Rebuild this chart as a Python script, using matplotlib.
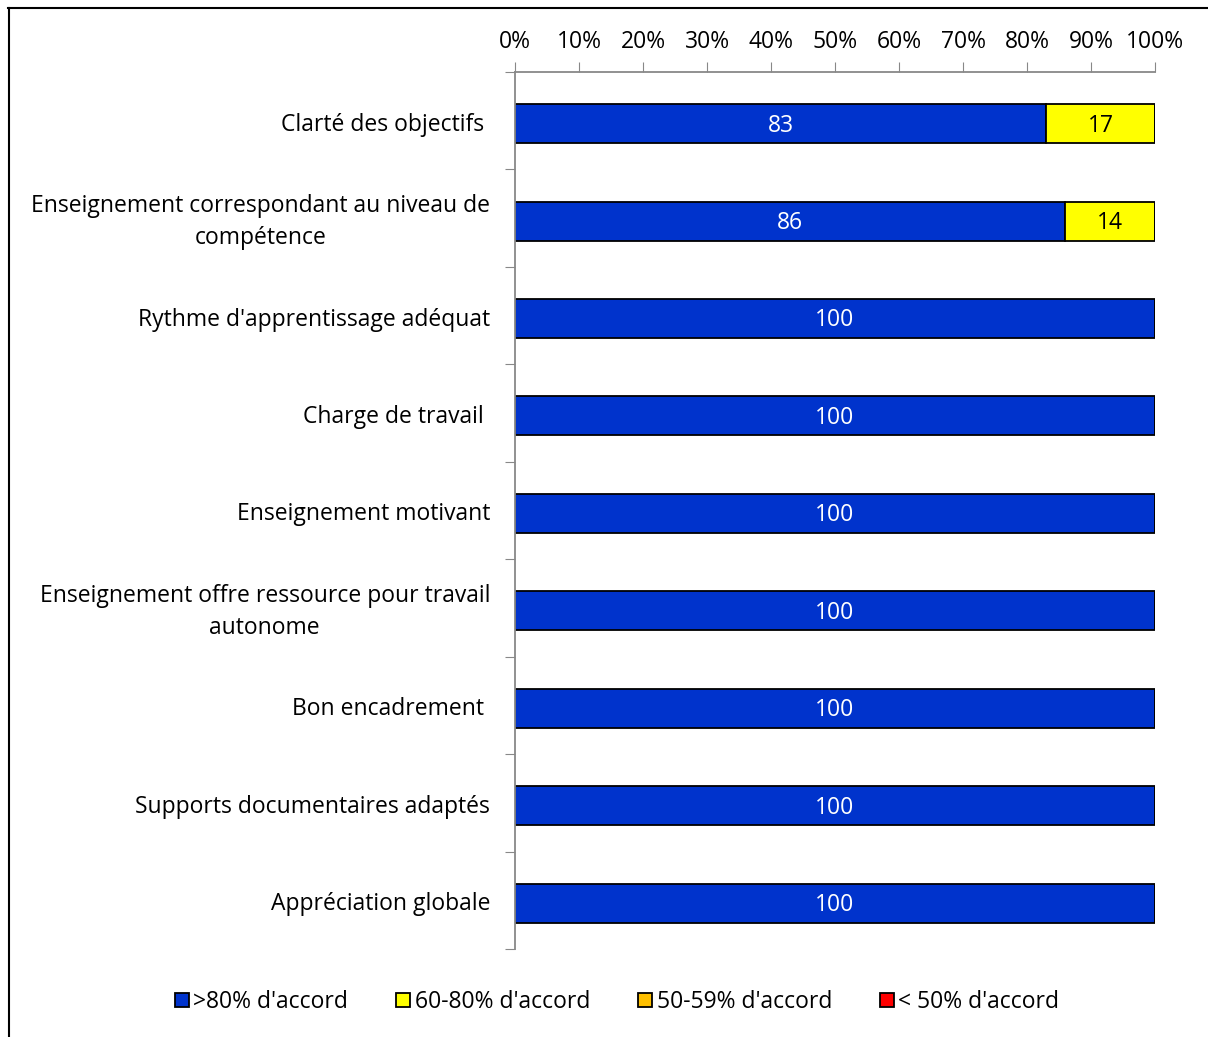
import matplotlib.pyplot as plt
import numpy as np

plt.rcParams['font.family'] = ['Open Sans', 'DejaVu Sans']

categories = ['Clarté des objectifs ',
              'Enseignement correspondant au niveau de\ncompétence',
              "Rythme d'apprentissage adéquat",
              'Charge de travail ',
              'Enseignement motivant',
              'Enseignement offre ressource pour travail\nautonome',
              'Bon encadrement ',
              'Supports documentaires adaptés',
              'Appréciation globale']
sup80 = [83, 86, 100, 100, 100, 100, 100, 100, 100]
p60_80 = [17, 14, 0, 0, 0, 0, 0, 0, 0]
p50_59 = [0, 0, 0, 0, 0, 0, 0, 0, 0]
inf50 = [0, 0, 0, 0, 0, 0, 0, 0, 0]

series = [(sup80, '#0033CC', 'white', ">80% d'accord"),
          (p60_80, '#FFFF00', 'black', "60-80% d'accord"),
          (p50_59, '#FFC000', 'black', "50-59% d'accord"),
          (inf50, '#FF0000', 'white', "< 50% d'accord")]

fs = 16.5

fig = plt.figure(figsize=(12.08, 10.37), dpi=100)
ax = fig.add_axes([515/1208, 1-949/1037, 640/1208, (949-72)/1037])

y = np.arange(len(categories))
left = np.zeros(len(categories))
for vals, col, tcol, lab in series:
    vals = np.array(vals, dtype=float)
    bars = ax.barh(y + 0.03, vals, left=left, height=0.4, color=col,
                   edgecolor='black', linewidth=1.3, label=lab)
    for b, v in zip(bars, vals):
        if v > 0:
            ax.text(b.get_x() + b.get_width()/2, b.get_y() + b.get_height()/2 + 0.02,
                    '%d' % v, ha='center', va='center', color=tcol, fontsize=fs)
    left += vals

ax.set_xlim(0, 100)
ax.set_ylim(len(categories) - 0.5, -0.5)
ax.xaxis.tick_top()
ax.set_xticks(np.arange(0, 101, 10))
ax.set_xticklabels(['%d%%' % v for v in range(0, 101, 10)], fontsize=fs)
ax.tick_params(axis='x', direction='out', length=7, color='#888888', pad=6)

ax.set_yticks(np.arange(-0.5, len(categories), 1.0))
ax.set_yticklabels([])
ax.tick_params(axis='y', direction='out', length=7, color='#888888')
for i, c in enumerate(categories):
    ax.text(-0.039, i + 0.04, c, transform=ax.get_yaxis_transform(), ha='right',
            va='center', multialignment='center', fontsize=fs, linespacing=1.45)

for s in ['right', 'bottom']:
    ax.spines[s].set_visible(False)
for s in ['left', 'top']:
    ax.spines[s].set_color('#888888')
    ax.spines[s].set_linewidth(1.3)

fig.legend(loc='center', bbox_to_anchor=(0.511, 1-1002/1037), ncol=4, frameon=False,
           fontsize=fs, handlelength=0.6, handleheight=0.6, handletextpad=0.2,
           columnspacing=2.1)

# outer frame (top and left visible)
fig.add_artist(plt.Line2D([8/1208, 1], [1-8/1037, 1-8/1037], color='black', lw=1.5))
fig.add_artist(plt.Line2D([9/1208, 9/1208], [0, 1-8/1037], color='black', lw=1.5))

fig.savefig('out.png')
